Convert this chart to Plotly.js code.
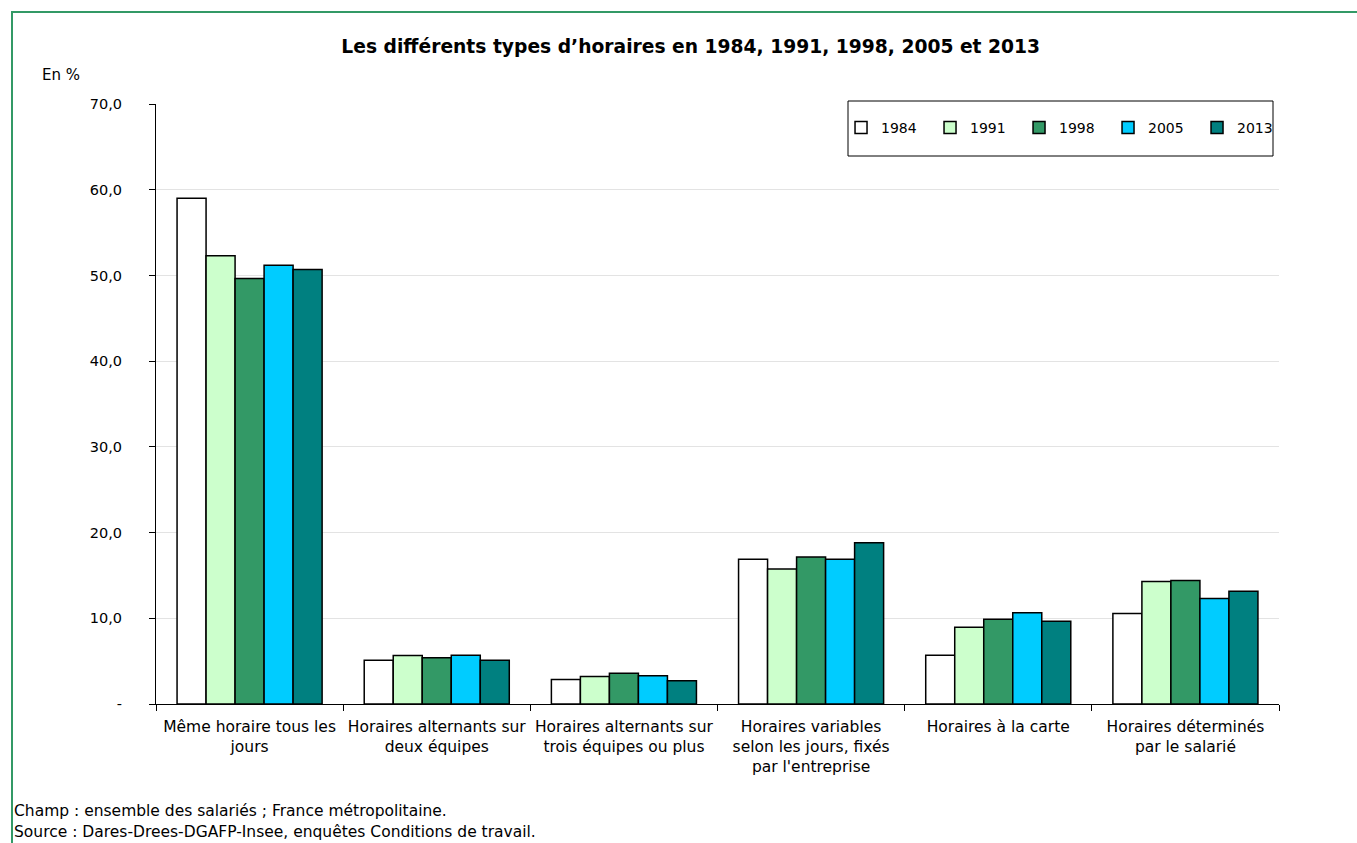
<!DOCTYPE html>
<html>
<head>
<meta charset="utf-8">
<script src="https://cdn.plot.ly/plotly-3.0.1.min.js"></script>
<style>
html,body{margin:0;padding:0;background:#fff;}
#chart{width:1357px;height:843px;}
#frame{position:absolute;left:11px;top:11px;width:1346px;height:832px;border-left:2px solid #339966;border-top:2px solid #339966;pointer-events:none;box-sizing:border-box;}
</style>
</head>
<body>
<div id="chart"></div>
<div id="frame"></div>
<script>
const categories = [
  "Même horaire tous les<br>jours",
  "Horaires alternants sur<br>deux équipes",
  "Horaires alternants sur<br>trois équipes ou plus",
  "Horaires variables<br>selon les jours, fixés<br>par l'entreprise",
  "Horaires à la carte",
  "Horaires déterminés<br>par le salarié"
];
const years = ["1984", "1991", "1998", "2005", "2013"];
const v1984 = [59.0, 5.1, 2.85, 16.9, 5.7, 10.55];
const v1991 = [52.3, 5.65, 3.2, 15.75, 8.95, 14.3];
const v1998 = [49.65, 5.4, 3.6, 17.15, 9.9, 14.4];
const v2005 = [51.2, 5.7, 3.3, 16.9, 10.65, 12.3];
const v2013 = [50.7, 5.1, 2.7, 18.8, 9.65, 13.15];
const colors = ["#FFFFFF", "#CCFFCC", "#339966", "#00CCFF", "#008080"];
const yTickVals = [0, 10, 20, 30, 40, 50, 60, 70];
const yTickText = ["-", "10,0", "20,0", "30,0", "40,0", "50,0", "60,0", "70,0"];

const series = [v1984, v1991, v1998, v2005, v2013];
const font = "DejaVu Sans, Verdana, sans-serif";

const traces = series.map((vals, i) => ({
  type: "bar",
  name: years[i],
  x: categories,
  y: vals,
  marker: {color: colors[i], line: {color: "#000000", width: 1.5}},
  hoverinfo: "x+y+name"
}));

const layout = {
  width: 1357,
  height: 843,
  margin: {l: 156, r: 78, t: 104, b: 139, autoexpand: false},
  paper_bgcolor: "#ffffff",
  plot_bgcolor: "#ffffff",
  font: {family: font, size: 14, color: "#000000"},
  barmode: "group",
  bargap: 0.225,
  bargroupgap: 0,
  title: {
    text: "<b>Les différents types d’horaires en 1984, 1991, 1998, 2005 et 2013</b>",
    font: {family: font, size: 18.7, color: "#000000"},
    x: 0.509, xanchor: "center",
    y: 0.945, yanchor: "middle"
  },
  xaxis: {
    type: "category",
    showline: true, linecolor: "#000000", linewidth: 1,
    ticks: "outside", tickson: "boundaries", ticklen: 6, tickcolor: "#000000", tickwidth: 1,
    tickangle: 0,
    ticklabelstandoff: 8,
    showgrid: false,
    tickfont: {family: font, size: 15.5, color: "#000000"},
    automargin: false
  },
  yaxis: {
    range: [0, 70],
    tickvals: yTickVals,
    ticktext: yTickText,
    showline: true, linecolor: "#000000", linewidth: 1,
    ticks: "outside", ticklen: 6, tickcolor: "#000000", tickwidth: 1,
    ticklabelstandoff: 24,
    showgrid: true, gridcolor: "#e3e3e3", gridwidth: 1,
    zeroline: false,
    tickfont: {family: font, size: 14.5, color: "#000000"},
    automargin: false
  },
  showlegend: true,
  legend: {
    orientation: "h",
    x: 0.61, xanchor: "left",
    y: 0.96, yanchor: "middle",
    bgcolor: "rgba(0,0,0,0)",
    borderwidth: 0,
    font: {family: font, size: 14, color: "#000000"},
    itemwidth: 30,
    entrywidth: 44,
    entrywidthmode: "pixels",
    traceorder: "normal"
  },
  shapes: [{
    type: "rect", xref: "paper", yref: "paper",
    x0: (848 - 156) / 1123, x1: (1273 - 156) / 1123,
    y0: (704 - 156) / 600, y1: (704 - 101) / 600,
    line: {color: "#000000", width: 1},
    fillcolor: "rgba(0,0,0,0)",
    layer: "above"
  }],
  annotations: [
    {text: "En %", xref: "paper", yref: "paper", x: (40 - 156) / 1123, y: (704 - 75) / 600, xanchor: "left", yanchor: "middle",
     showarrow: false, font: {family: font, size: 15, color: "#000000"}},
    {text: "Champ : ensemble des salariés ; France métropolitaine.", xref: "paper", yref: "paper",
     x: (12 - 156) / 1123, y: (704 - 811) / 600, xanchor: "left", yanchor: "middle", showarrow: false,
     font: {family: font, size: 15.5, color: "#000000"}},
    {text: "Source : Dares-Drees-DGAFP-Insee, enquêtes Conditions de travail.", xref: "paper", yref: "paper",
     x: (12 - 156) / 1123, y: (704 - 832) / 600, xanchor: "left", yanchor: "middle", showarrow: false,
     font: {family: font, size: 15.5, color: "#000000"}}
  ]
};

Plotly.newPlot("chart", traces, layout, {displayModeBar: false, responsive: false});
</script>
</body>
</html>
